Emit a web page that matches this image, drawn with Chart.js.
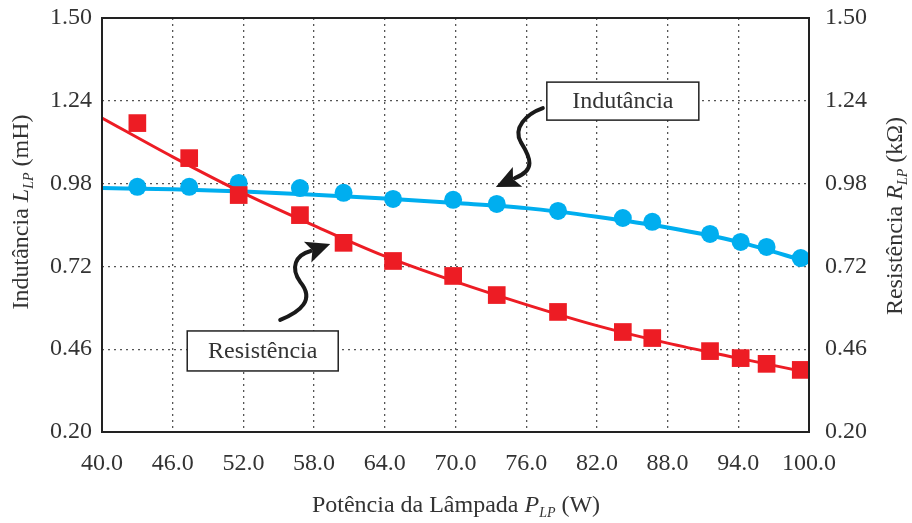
<!DOCTYPE html>
<html>
<head>
<meta charset="utf-8">
<script src="https://cdn.jsdelivr.net/npm/chart.js@4.4.0/dist/chart.umd.min.js"></script>
<style>
  html, body { margin: 0; padding: 0; background: #fff; }
</style>
</head>
<body>
<canvas id="grafico" width="912" height="523"></canvas>
<script>
// pontos medidos
var potencia    = [43.0, 47.4, 51.6, 56.8, 60.5, 64.7, 69.8, 73.5, 78.7, 84.2, 86.7, 91.6, 94.2, 96.4, 99.3];
var indutancia  = [0.970, 0.970, 0.982, 0.966, 0.951, 0.932, 0.929, 0.916, 0.894, 0.872, 0.860, 0.822, 0.797, 0.781, 0.746];
var resistencia = [1.170, 1.060, 0.944, 0.881, 0.794, 0.737, 0.690, 0.630, 0.577, 0.514, 0.495, 0.454, 0.432, 0.414, 0.395];

// curvas ajustadas
var ajusteX          = [40, 46, 52, 58, 64, 70, 76, 82, 88, 94, 100];
var ajusteIndutancia = [0.966, 0.962, 0.955, 0.945, 0.933, 0.919, 0.903, 0.876, 0.842, 0.797, 0.733];
var ajusteResist     = [1.186, 1.064, 0.950, 0.848, 0.752, 0.672, 0.600, 0.534, 0.479, 0.432, 0.386];

var xTicks = [40, 46, 52, 58, 64, 70, 76, 82, 88, 94, 100];
var yTicks = [0.20, 0.46, 0.72, 0.98, 1.24, 1.50];

var azul = '#00AEEF';
var vermelho = '#ED1C24';
var fonte = '"Liberation Serif", "DejaVu Serif", serif';

function pares(xs, ys) {
    return xs.map(function (x, i) { return { x: x, y: ys[i] }; });
}

function gridColor(ctx) {
    var v = ctx.tick ? ctx.tick.value : null;
    var s = ctx.scale;
    if (v === s.min || v === s.max) return 'rgba(0,0,0,0)';
    return '#555';
}

// texto com subscrito
function drawRich(ctx, parts, cx, cy, rot) {
    var size = 24, subSize = 14;
    ctx.save();
    ctx.translate(cx, cy);
    ctx.rotate(rot);
    var total = 0;
    parts.forEach(function (p) {
        ctx.font = (p.italic ? 'italic ' : '') + (p.sub ? subSize : size) + 'px ' + fonte;
        p.w = ctx.measureText(p.t).width;
        total += p.w;
    });
    var x = -total / 2;
    ctx.fillStyle = '#333';
    ctx.textBaseline = 'middle';
    ctx.textAlign = 'left';
    parts.forEach(function (p) {
        ctx.font = (p.italic ? 'italic ' : '') + (p.sub ? subSize : size) + 'px ' + fonte;
        ctx.fillText(p.t, x, p.sub ? 7 : 0);
        x += p.w;
    });
    ctx.restore();
}

var rotulos = [
    { texto: 'Indutância', x: 84.2, y: 1.239, w: 152, h: 38,
      seta: [[-80, 7], [-97, 13], [-110, 27], [-102, 41], [-92, 57], [-87, 69], [-108, 77]], ponta: [-127, 86] },
    { texto: 'Resistência', x: 53.64, y: 0.4545, w: 151, h: 40,
      seta: [[17.5, -31], [37.5, -39], [52.5, -51], [37.5, -69], [27.5, -83], [32.5, -96], [48, -100]], ponta: [67.5, -107] }
];

var extras = {
    id: 'extras',
    afterDatasetsDraw: function (chart) {
        var ctx = chart.ctx, a = chart.chartArea;
        var sx = chart.scales.x, sy = chart.scales.y;

        // caixa do grafico
        ctx.save();
        ctx.strokeStyle = '#222';
        ctx.lineWidth = 2;
        ctx.strokeRect(a.left, a.top, a.right - a.left, a.bottom - a.top);
        ctx.restore();

        rotulos.forEach(function (r) {
            var cx = sx.getPixelForValue(r.x), cy = sy.getPixelForValue(r.y);
            ctx.save();
            // seta
            var s = r.seta;
            ctx.strokeStyle = '#1a1a1a';
            ctx.fillStyle = '#1a1a1a';
            ctx.lineWidth = 4;
            ctx.lineCap = 'round';
            ctx.beginPath();
            ctx.moveTo(cx + s[0][0], cy + s[0][1]);
            ctx.bezierCurveTo(cx + s[1][0], cy + s[1][1], cx + s[2][0], cy + s[2][1], cx + s[3][0], cy + s[3][1]);
            ctx.bezierCurveTo(cx + s[4][0], cy + s[4][1], cx + s[5][0], cy + s[5][1], cx + s[6][0], cy + s[6][1]);
            ctx.stroke();
            var bx = cx + s[6][0], by = cy + s[6][1];
            var tx = cx + r.ponta[0], ty = cy + r.ponta[1];
            var dx = tx - bx, dy = ty - by, len = Math.sqrt(dx * dx + dy * dy);
            var ux = dx / len, uy = dy / len;
            var L = 24, W = 11;
            var b0x = tx - ux * L, b0y = ty - uy * L;
            ctx.beginPath();
            ctx.moveTo(tx, ty);
            ctx.lineTo(b0x - uy * W, b0y + ux * W);
            ctx.lineTo(b0x + ux * 5, b0y + uy * 5);
            ctx.lineTo(b0x + uy * W, b0y - ux * W);
            ctx.closePath();
            ctx.fill();
            // caixa
            ctx.fillStyle = '#fff';
            ctx.fillRect(cx - r.w / 2, cy - r.h / 2, r.w, r.h);
            ctx.strokeStyle = '#222';
            ctx.lineWidth = 1.5;
            ctx.strokeRect(cx - r.w / 2, cy - r.h / 2, r.w, r.h);
            ctx.fillStyle = '#333';
            ctx.font = '24px ' + fonte;
            ctx.textAlign = 'center';
            ctx.textBaseline = 'middle';
            ctx.fillText(r.texto, cx, cy + 1);
            ctx.restore();
        });

        drawRich(ctx, [{ t: 'Indutância ' }, { t: 'L', italic: true }, { t: 'LP', italic: true, sub: true }, { t: ' (mH)' }], 22, 212, -Math.PI / 2);
        drawRich(ctx, [{ t: 'Resistência ' }, { t: 'R', italic: true }, { t: 'LP', italic: true, sub: true }, { t: ' (kΩ)' }], 896, 216, -Math.PI / 2);
        drawRich(ctx, [{ t: 'Potência da Lâmpada ' }, { t: 'P', italic: true }, { t: 'LP', italic: true, sub: true }, { t: ' (W)' }], 456, 506, 0);
    }
};

var tickFont = { family: fonte, size: 24 };

function semPaddingY(s, w) {
    s.width = w;
    s.paddingTop = 0;
    s.paddingBottom = 0;
}

new Chart('grafico', {
    type: 'line',
    data: {
        datasets: [{
            data: pares(potencia, resistencia),
            yAxisID: 'y2',
            showLine: false,
            pointStyle: 'rect',
            pointRadius: 12.5,
            pointBackgroundColor: vermelho,
            pointBorderColor: vermelho,
            pointBorderWidth: 0,
            order: 1
        }, {
            data: pares(ajusteX, ajusteResist),
            yAxisID: 'y2',
            borderColor: vermelho,
            borderWidth: 3,
            pointRadius: 0,
            cubicInterpolationMode: 'monotone',
            order: 2
        }, {
            data: pares(potencia, indutancia),
            yAxisID: 'y',
            showLine: false,
            pointStyle: 'circle',
            pointRadius: 9,
            pointBackgroundColor: azul,
            pointBorderColor: azul,
            pointBorderWidth: 0,
            order: 3
        }, {
            data: pares(ajusteX, ajusteIndutancia),
            yAxisID: 'y',
            borderColor: azul,
            borderWidth: 4,
            pointRadius: 0,
            cubicInterpolationMode: 'monotone',
            order: 4
        }]
    },
    options: {
        responsive: false,
        animation: false,
        devicePixelRatio: 1,
        layout: { padding: { top: 18, left: 0, right: 0, bottom: 0 } },
        plugins: { legend: { display: false }, tooltip: { enabled: false } },
        scales: {
            x: {
                type: 'linear',
                min: 40, max: 100,
                afterBuildTicks: function (s) { s.ticks = xTicks.map(function (v) { return { value: v }; }); },
                afterFit: function (s) { s.height = 91; s.paddingLeft = 0; s.paddingRight = 0; },
                ticks: { font: tickFont, color: '#333', padding: 17, maxRotation: 0,
                         callback: function (v) { return Number(v).toFixed(1); } },
                grid: { color: gridColor, lineWidth: 1.3, drawTicks: false },
                border: { display: false, dash: [2, 4] }
            },
            y: {
                position: 'left',
                min: 0.20, max: 1.50,
                afterBuildTicks: function (s) { s.ticks = yTicks.map(function (v) { return { value: v }; }); },
                afterFit: function (s) { semPaddingY(s, 102); },
                ticks: { font: tickFont, color: '#333', padding: 10,
                         callback: function (v) { return Number(v).toFixed(2); } },
                grid: { color: gridColor, lineWidth: 1.3, drawTicks: false },
                border: { display: false, dash: [2, 4] }
            },
            y2: {
                position: 'right',
                min: 0.20, max: 1.50,
                afterBuildTicks: function (s) { s.ticks = yTicks.map(function (v) { return { value: v }; }); },
                afterFit: function (s) { semPaddingY(s, 103); },
                ticks: { font: tickFont, color: '#333', padding: 16,
                         callback: function (v) { return Number(v).toFixed(2); } },
                grid: { drawOnChartArea: false, drawTicks: false },
                border: { display: false }
            }
        }
    },
    plugins: [extras]
});
</script>
</body>
</html>
